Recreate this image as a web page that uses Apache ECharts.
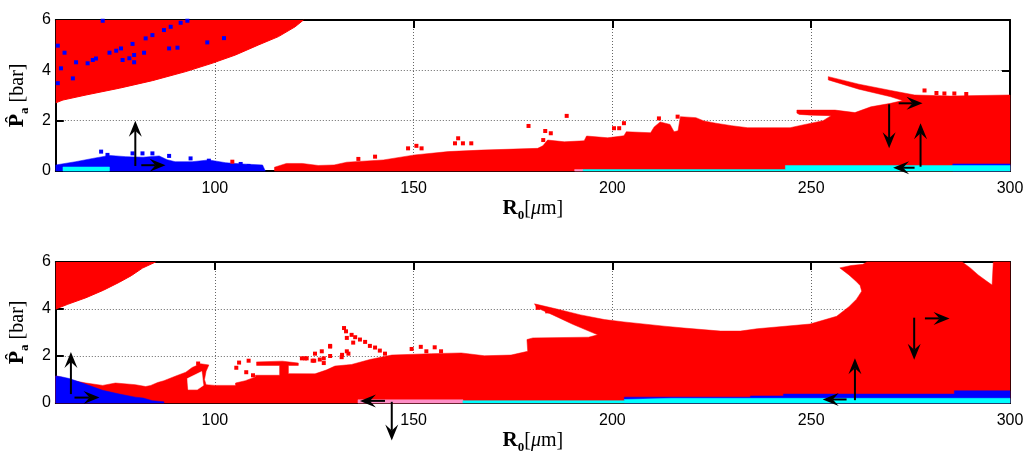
<!DOCTYPE html>
<html>
<head>
<meta charset="utf-8">
<script src="https://cdn.jsdelivr.net/npm/echarts@6/dist/echarts.min.js"></script>
<style>
  html, body { margin: 0; padding: 0; background: #fff; }
  #chart { width: 1027px; height: 455px; }
</style>
</head>
<body>
<div id="chart"></div>
<script>
// tick values
var xTickValues = [100, 150, 200, 250, 300];
var xTopTicks = [100, 150, 200, 250];

// ---- top panel regions, [R0 (um), Pa (bar)] ----
// lower edge of the red wedge in the upper left corner (filled up to 6 bar)
var topWedgeEdge = [[60, 2.71], [61.8, 2.82], [67.6, 3.02], [76, 3.29], [84.3, 3.59], [92.7, 3.95], [99.3, 4.28],
  [105.2, 4.61], [111, 5.01], [116, 5.34], [120.2, 5.73], [122.3, 6]];
var topBlue = [[60, 0], [60, 0.24], [65, 0.37], [69.3, 0.5], [73.5, 0.62], [77.6, 0.57], [82, 0.55], [86, 0.6],
  [88, 0.45], [90, 0.37], [94.3, 0.37], [98.5, 0.44], [102.7, 0.33], [106.9, 0.28], [112, 0.24], [112.7, 0]];
var topCyanLeft = [[61.8, 0], [61.8, 0.16], [73.5, 0.16], [73.5, 0]];
var topRedBand = [[115, 0], [115, 0.15], [118, 0.3], [122, 0.3], [126, 0.22], [130, 0.24], [133.2, 0.35], [142.4, 0.44],
  [150.3, 0.64], [158.7, 0.77], [167, 0.83], [181.2, 0.9], [182.5, 1.0], [183.7, 1.23], [187.9, 1.16], [192.9, 1.2],
  [193.5, 1.39], [198.8, 1.32], [202.9, 1.4], [203.5, 1.56], [209.6, 1.52], [210.5, 1.75], [212, 1.95], [214.5, 1.85],
  [215.5, 1.56], [216.5, 1.6], [217.1, 2.16], [221, 2.12], [223, 1.99], [226, 1.9], [230, 1.8], [234, 1.72],
  [244.7, 1.72], [247, 1.8], [250, 1.9], [253, 2.0], [255, 2.2], [250, 2.22], [247, 2.25], [246.4, 2.3],
  [246.4, 2.42], [256, 2.42], [261, 2.32], [265, 2.55], [270, 2.69], [273, 2.8], [270, 2.95], [262, 3.25],
  [254.3, 3.62], [254.3, 3.75], [262, 3.45], [270, 3.2], [276, 3.02], [285, 2.98], [300, 3.02], [300, 0]];
var topBlueRight = [[285.6, 0], [285.6, 0.28], [300, 0.28], [300, 0]];
var topCyanRight = [[192.5, 0], [192.5, 0.06], [243.5, 0.06], [243.5, 0.22], [300, 0.22], [300, 0]];
var topPink = [[190.5, 0], [190.5, 0.06], [192.5, 0.06], [192.5, 0]];

var topBlueDots = [[71.8, 5.97], [68, 4.28], [69.3, 4.41], [70.1, 4.47], [73.5, 4.7], [75.2, 4.78], [76.4, 4.87],
  [79.3, 5.05], [82.6, 5.27], [84.3, 5.4], [87.2, 5.6], [88.9, 5.73], [91.4, 5.89], [93.1, 5.97], [102.3, 5.28],
  [98.1, 5.11], [79.7, 4.32], [76.8, 4.41], [65.1, 4.32], [64.3, 3.68], [61.3, 4.08], [62.2, 4.7], [60.5, 4.98],
  [60.5, 3.49], [88.5, 4.87], [90.6, 4.9], [79.7, 4.61], [82.2, 4.7], [78.5, 4.48],
  [71.4, 0.77], [73, 0.64], [79.3, 0.7], [81.8, 0.7], [84.3, 0.7], [88.5, 0.6], [98.5, 0.41], [93.9, 0.5],
  [106.5, 0.28], [108.5, 0.2]];
var topRedDots = [[104.4, 0.37], [136.1, 0.48], [140.3, 0.57], [148.6, 0.9], [150.7, 1.0], [152, 0.9],
  [161.2, 1.3], [160.4, 1.1], [162.4, 1.1], [164.5, 1.1], [178.9, 1.79], [183.1, 1.59], [184.5, 1.5],
  [182.6, 1.23], [188.5, 2.19], [200.4, 1.7], [201.7, 1.7], [202.9, 1.9], [211.7, 2.09], [216.4, 2.16],
  [278.5, 3.2], [281.5, 3.1], [283.5, 3.08], [286, 3.08], [289, 3.06]];
var topArrows = [[80, 0.2, 80, 2.0], [81.5, 0.23, 87.6, 0.23], [269.6, 2.65, 269.6, 0.9],
  [272, 2.69, 278, 2.69], [277.5, 0.17, 277.5, 1.9], [276, 0.13, 270.6, 0.13]];

// ---- bottom panel regions ----
var botWedgeEdge = [[60, 4.0], [63, 4.2], [67.6, 4.48], [72, 4.8], [76, 5.14], [79, 5.42], [81.8, 5.74], [85.1, 6]];
var botRed = [[60, 0], [60, 1.15], [61.3, 1.1], [63.4, 0.98], [67.6, 0.85], [71.8, 0.75], [75, 0.85], [80, 0.78],
  [82.6, 0.7], [83.9, 0.75], [85.6, 0.87], [87.2, 0.95], [90.2, 1.15], [92.7, 1.31], [94.3, 1.51], [96.4, 1.67],
  [98.5, 1.62], [97.8, 1.35], [97.4, 1.0], [97.8, 0.78], [100, 0.75], [105.2, 0.75], [105.2, 0.85], [107.7, 0.95],
  [110.2, 1.11], [110.2, 1.18], [116.3, 1.18], [116.3, 1.6], [110.5, 1.6], [110.5, 1.75], [117, 1.78], [121, 1.7],
  [121, 1.6], [118.5, 1.6], [118.5, 1.25], [125.2, 1.24], [128, 1.4], [130.2, 1.57], [134.4, 1.64], [139, 1.85],
  [144.5, 2.04], [154.5, 2.1], [162, 2.13], [167.8, 2.01], [174.5, 2.04], [178.7, 2.2], [178.5, 2.7], [180, 2.77],
  [194, 2.8], [196.3, 2.9], [190, 3.35], [185, 3.75], [181, 4.05], [180.4, 4.22], [186, 4.0], [192, 3.75],
  [198, 3.55], [202.9, 3.45], [213, 3.27], [218, 3.19], [227.2, 3.06], [232.2, 3.06], [236.4, 3.16], [249.7, 3.36],
  [256.4, 3.69], [259.5, 4.1], [261.4, 4.42], [262.7, 4.76], [262.3, 5.0], [261.4, 5.16], [259.5, 5.45],
  [257.2, 5.75], [260, 5.85], [263, 5.9], [264, 6], [288, 6], [290, 5.75], [292, 5.45], [294, 5.2], [295.5, 5.02],
  [295.8, 6], [300, 6], [300, 0]];
var botHole = [[93.1, 1.04], [96.7, 1.34], [97.1, 0.75], [95.6, 0.57], [93.3, 0.57]];
var botBlueLeft = [[60, 0], [60, 1.15], [61.3, 1.12], [63.4, 1.04], [66.7, 0.85], [71.8, 0.54], [76, 0.38],
  [80, 0.25], [82, 0.21], [84.3, 0.1], [87.2, 0.05], [87.2, 0]];
var botPink = [[136, 0], [136, 0.14], [162.4, 0.14], [162.4, 0]];
var botBlueRight = [[203, 0], [203, 0.25], [234.7, 0.25], [234.7, 0.3], [243, 0.3], [243, 0.38], [286, 0.38],
  [286, 0.52], [300, 0.52], [300, 0]];
var botCyan = [[162.4, 0], [162.4, 0.1], [203, 0.1], [203, 0.15], [215, 0.2], [300, 0.2], [300, 0]];

var botRedDots = [[95.8, 1.68], [105.4, 1.5], [106.1, 1.72], [107.9, 1.31], [109.6, 1.18], [108.5, 1.8],
  [121.9, 1.9], [123.1, 1.9], [125.2, 2.1], [126.9, 2.2], [129, 2.4], [127.4, 1.9], [127.4, 1.7], [129, 2.0],
  [131.9, 1.95], [133.6, 2.1], [125, 1.8], [122.7, 1.9], [124.6, 1.8], [126.4, 1.85], [129, 2.43],
  [132.5, 3.19], [133, 3.05], [134.4, 2.9], [135.3, 2.8], [136.5, 2.7], [137.8, 2.6], [139, 2.43], [140.3, 2.36],
  [141.5, 2.23], [142.8, 2.1], [133.2, 2.77], [134.8, 2.57], [133.2, 2.2], [132, 2.05], [149.5, 2.3],
  [151.8, 2.39], [153.2, 2.2], [155.3, 2.37], [156.9, 2.2], [181.2, 4.05], [183.6, 3.9]];
var botArrows = [[63.8, 0.38, 63.8, 2.17], [64.7, 0.23, 71, 0.23], [142.8, 0.09, 136.5, 0.09],
  [144.5, 0.05, 144.5, -1.6], [275.9, 3.63, 275.9, 1.84], [278.6, 3.6, 284.8, 3.6],
  [261, 0.12, 261, 1.9], [258.9, 0.15, 252.9, 0.15]];

var RED = '#ff0000', BLUE = '#0000ff', CYAN = '#00ffff', PINK = '#ff8ec6';

function region(pts, color, panel) {
  return {
    type: 'custom', xAxisIndex: panel * 2, yAxisIndex: panel * 2, silent: true,
    data: [[pts[0][0], pts[0][1]]],
    renderItem: function (params, api) {
      var points = [];
      for (var i = 0; i < pts.length; i++) {
        var c = api.coord([pts[i][0], pts[i][1]]);
        points.push([c[0], c[1]]);
      }
      return {
        type: 'polygon',
        shape: { points: points },
        style: { fill: color, stroke: color, lineWidth: 0.5 }
      };
    }
  };
}

// region between an edge and the top of the axis
function wedge(edge, color, panel) {
  return {
    type: 'line', xAxisIndex: panel * 2, yAxisIndex: panel * 2, silent: true,
    data: edge, symbol: 'none', smooth: false,
    lineStyle: { color: color, width: 1 },
    areaStyle: { color: color, opacity: 1, origin: 'end' }
  };
}

// small square specks, one per data point
function dots(pts, color, panel) {
  return {
    type: 'custom', xAxisIndex: panel * 2, yAxisIndex: panel * 2, silent: true, z: 3,
    data: pts,
    renderItem: function (params, api) {
      var c = api.coord([api.value(0), api.value(1)]);
      return { type: 'rect', shape: { x: c[0] - 2, y: c[1] - 2, width: 4, height: 4 }, style: { fill: color } };
    }
  };
}

function arrows(list, panel) {
  return {
    type: 'custom', xAxisIndex: panel * 2, yAxisIndex: panel * 2, silent: true, clip: false, z: 10,
    data: list,
    renderItem: function (params, api) {
      var p1 = api.coord([api.value(0), api.value(1)]);
      var p2 = api.coord([api.value(2), api.value(3)]);
      var dx = p2[0] - p1[0], dy = p2[1] - p1[1];
      var len = Math.sqrt(dx * dx + dy * dy);
      var ux = dx / len, uy = dy / len, nx = -uy, ny = ux;
      var L = 16, W = 6.5, N = 10;
      var back = [p2[0] - ux * L, p2[1] - uy * L];
      var notch = [p2[0] - ux * N, p2[1] - uy * N];
      return {
        type: 'group',
        children: [
          { type: 'line', shape: { x1: p1[0], y1: p1[1], x2: notch[0], y2: notch[1] },
            style: { stroke: '#000', lineWidth: 2 } },
          { type: 'polygon',
            shape: { points: [p2, [back[0] + nx * W, back[1] + ny * W], notch, [back[0] - nx * W, back[1] - ny * W]] },
            style: { fill: '#000' } }
        ]
      };
    }
  };
}

var tickFont = { color: '#000', fontSize: 16, fontFamily: 'Liberation Sans' };
var gridLine = { show: true, lineStyle: { color: '#666', type: [1, 2], width: 1 } };
var axisBlack = { show: true, onZero: false, lineStyle: { color: '#000', width: 2 } };

var xName = '{r|R}{s|0}{n|[}{m|μ}{n|m]}';
var yName = '{p|P̂}{s|a}{n| [bar]}';
var nameRich = {
  r: { fontFamily: 'Liberation Serif', fontWeight: 'bold', fontSize: 21, lineHeight: 26, color: '#000' },
  p: { fontFamily: 'DejaVu Serif', fontWeight: 'bold', fontSize: 18, lineHeight: 26, color: '#000' },
  s: { fontFamily: 'Liberation Serif', fontWeight: 'bold', fontSize: 13, lineHeight: 15, verticalAlign: 'bottom', color: '#000' },
  n: { fontFamily: 'Liberation Serif', fontSize: 20, lineHeight: 26, color: '#000' },
  m: { fontFamily: 'Liberation Serif', fontStyle: 'italic', fontSize: 20, lineHeight: 26, color: '#000' }
};

function xAxes(gridIndex) {
  return [{
    type: 'value', gridIndex: gridIndex, position: 'bottom', min: 60, max: 300,
    axisLine: axisBlack,
    axisTick: { show: true, inside: true, length: 8, customValues: xTickValues, lineStyle: { color: '#000', width: 2 } },
    axisLabel: Object.assign({ customValues: xTickValues, margin: 10 }, tickFont),
    splitLine: gridLine,
    name: xName, nameLocation: 'middle', nameGap: 25,
    nameTextStyle: { rich: nameRich }
  }, {
    type: 'value', gridIndex: gridIndex, position: 'top', min: 60, max: 300,
    axisLine: axisBlack,
    axisTick: { show: true, inside: true, length: 8, customValues: xTopTicks, lineStyle: { color: '#000', width: 2 } },
    axisLabel: { show: false }, splitLine: { show: false }
  }];
}

function yAxes(gridIndex) {
  return [{
    type: 'value', gridIndex: gridIndex, position: 'left', min: 0, max: 6, interval: 2,
    axisLine: axisBlack,
    axisTick: { show: true, inside: true, length: 8, lineStyle: { color: '#000', width: 2 } },
    axisLabel: Object.assign({ margin: 5 }, tickFont),
    splitLine: gridLine,
    name: yName, nameLocation: 'middle', nameGap: 19, nameRotate: 90,
    nameTextStyle: { rich: nameRich }
  }, {
    type: 'value', gridIndex: gridIndex, position: 'right', min: 0, max: 6, interval: 2,
    axisLine: axisBlack,
    axisTick: { show: true, inside: true, length: 8, lineStyle: { color: '#000', width: 2 } },
    axisLabel: { show: false }, splitLine: { show: false }
  }];
}

var chart = echarts.init(document.getElementById('chart'));
chart.setOption({
  animation: false,
  backgroundColor: '#fff',
  grid: [
    { left: 53, right: 17, top: 20, height: 151 },
    { left: 53, right: 17, top: 262, height: 151 }
  ],
  xAxis: xAxes(0).concat(xAxes(1)),
  yAxis: yAxes(0).concat(yAxes(1)),
  series: [
    wedge(topWedgeEdge, RED, 0),
    region(topBlue, BLUE, 0),
    region(topCyanLeft, CYAN, 0),
    region(topRedBand, RED, 0),
    region(topBlueRight, BLUE, 0),
    region(topCyanRight, CYAN, 0),
    region(topPink, PINK, 0),
    dots(topBlueDots, BLUE, 0),
    dots(topRedDots, RED, 0),
    arrows(topArrows, 0),
    wedge(botWedgeEdge, RED, 1),
    region(botRed, RED, 1),
    region(botHole, '#fff', 1),
    region(botBlueLeft, BLUE, 1),
    region(botPink, PINK, 1),
    region(botBlueRight, BLUE, 1),
    region(botCyan, CYAN, 1),
    dots(botRedDots, RED, 1),
    arrows(botArrows, 1)
  ]
});
</script>
</body>
</html>
